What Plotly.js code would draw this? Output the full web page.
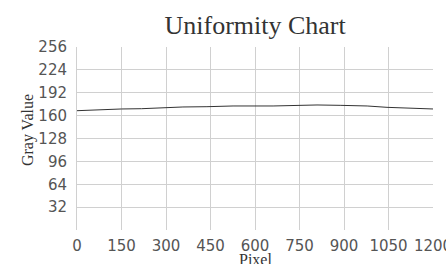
<!DOCTYPE html>
<html><head><meta charset="utf-8">
<script src="https://cdn.plot.ly/plotly-3.0.1.min.js"></script>
<style>html,body{margin:0;padding:0;background:#fff;}#chart{width:446px;height:264px;}</style>
</head><body><div id="chart"></div>
<script>
const pixel = [0, 77, 150, 218, 290, 357, 438, 526, 661, 809, 887, 978, 1045, 1122, 1200];
const grayValue = [166.9, 168.3, 169.3, 169.7, 171.1, 172.1, 172.5, 173.5, 173.5, 174.9, 174.4, 173.5, 171.6, 170.2, 169.3];
const xTicks = [0, 150, 300, 450, 600, 750, 900, 1050, 1200];
const yTicks = [32, 64, 96, 128, 160, 192, 224, 256];

const tickFont = {family: 'DejaVu Sans', size: 15, color: '#555'};
const serif = 'Liberation Serif, Times New Roman, serif';
Plotly.newPlot('chart', [{
  x: pixel, y: grayValue, type: 'scatter', mode: 'lines',
  line: {color: '#333', width: 1}, hoverinfo: 'none'
}], {
  width: 446, height: 264,
  margin: {l: 77, r: 13, t: 47, b: 34},
  paper_bgcolor: '#fff', plot_bgcolor: '#fff',
  showlegend: false,
  title: {text: 'Uniformity Chart', font: {family: serif, size: 26, color: '#333'}, x: 0.572, xanchor: 'center', y: 0.94, yanchor: 'top'},
  xaxis: {
    range: [0, 1200], tickvals: xTicks, ticktext: xTicks.map(String),
    showgrid: true, gridcolor: '#d0d0d0', gridwidth: 1, zeroline: false,
    showline: false, ticks: '', tickfont: tickFont, ticklabeloverflow: 'allow',
    ticklabelstandoff: 5
  },
  yaxis: {
    range: [0, 256], tickvals: yTicks, ticktext: yTicks.map(String),
    showgrid: true, gridcolor: '#d0d0d0', gridwidth: 1, zeroline: false,
    showline: true, linecolor: '#d0d0d0', linewidth: 1, ticks: '', tickfont: tickFont,
    ticklabelstandoff: 6
  },
  annotations: [
    {text: 'Gray Value', xref: 'paper', yref: 'paper', x: -0.1376, y: 0.546, xanchor: 'center', yanchor: 'middle', textangle: -90, showarrow: false, font: {family: serif, size: 16, color: '#333'}},
    {text: 'Pixel', xref: 'paper', yref: 'paper', x: 0.5, y: -0.16, xanchor: 'center', yanchor: 'middle', showarrow: false, font: {family: serif, size: 16, color: '#333'}}
  ]
}, {displayModeBar: false, staticPlot: true});
</script></body></html>
